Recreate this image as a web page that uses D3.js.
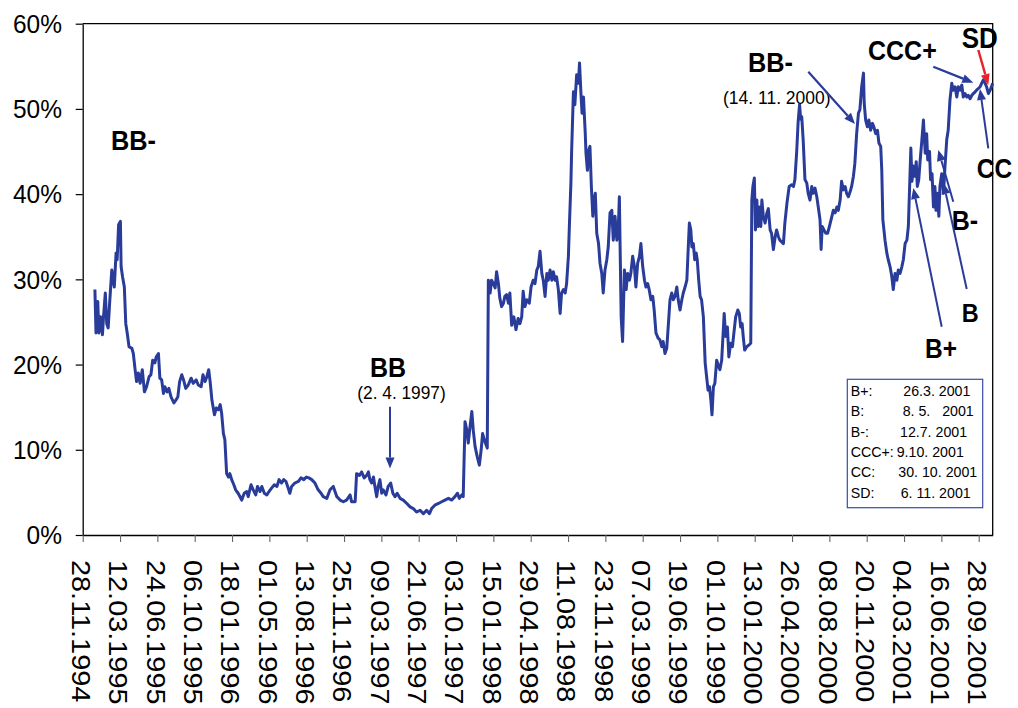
<!DOCTYPE html>
<html><head><meta charset="utf-8">
<script src="https://cdn.jsdelivr.net/npm/d3@7"></script>
<style>
body{margin:0;background:#fff;}
svg{display:block;}
text{font-family:"Liberation Sans",Arial,Helvetica,sans-serif;fill:#000;}
</style>
</head><body>
<svg id="c" width="1018" height="708"></svg>
<script>
// ---------------- data ----------------
const dates = [
"1995-01-01","1995-01-04","1995-01-09","1995-01-12","1995-01-17","1995-01-22","1995-01-25","1995-01-30","1995-02-03","1995-02-07",
"1995-02-11","1995-02-17","1995-02-20","1995-02-24","1995-03-01","1995-03-04","1995-03-08","1995-03-13","1995-03-15","1995-03-19",
"1995-03-24","1995-03-28","1995-04-01","1995-04-06","1995-04-14","1995-04-18","1995-04-23","1995-04-27","1995-05-02","1995-05-07",
"1995-05-13","1995-05-19","1995-05-25","1995-06-01","1995-06-06","1995-06-11","1995-06-17","1995-06-21","1995-06-27","1995-07-01",
"1995-07-06","1995-07-11","1995-07-15","1995-07-21","1995-07-26","1995-08-01","1995-08-09","1995-08-14","1995-08-20","1995-08-25",
"1995-08-31","1995-09-05","1995-09-11","1995-09-18","1995-09-26","1995-10-02","1995-10-10","1995-10-16","1995-10-24","1995-10-29",
"1995-11-04","1995-11-09","1995-11-14","1995-11-18","1995-11-23","1995-11-30","1995-12-05","1995-12-11","1995-12-16","1995-12-20",
"1995-12-25","1995-12-29","1996-01-03","1996-01-08","1996-01-12","1996-01-17","1996-01-23","1996-01-28","1996-02-04","1996-02-14",
"1996-02-21","1996-02-28","1996-03-03","1996-03-11","1996-03-17","1996-03-24","1996-03-29","1996-04-05","1996-04-10","1996-04-17",
"1996-04-24","1996-04-30","1996-05-07","1996-05-15","1996-05-22","1996-05-28","1996-06-04","1996-06-10","1996-06-16","1996-06-21",
"1996-06-27","1996-07-02","1996-07-11","1996-07-21","1996-07-28","1996-08-05","1996-08-12","1996-08-19","1996-08-27","1996-09-05",
"1996-09-14","1996-09-22","1996-09-28","1996-10-08","1996-10-17","1996-10-26","1996-11-05","1996-11-14","1996-11-23","1996-12-02",
"1996-12-12","1996-12-16","1996-12-26","1996-12-30","1997-01-07","1997-01-13","1997-01-20","1997-01-27","1997-02-01","1997-02-05",
"1997-02-10","1997-02-15","1997-02-19","1997-02-24","1997-02-28","1997-03-05","1997-03-10","1997-03-14","1997-03-22","1997-03-28",
"1997-04-04","1997-04-10","1997-04-16","1997-04-22","1997-04-30","1997-05-09","1997-05-19","1997-05-28","1997-06-06","1997-06-15",
"1997-06-25","1997-07-04","1997-07-13","1997-07-21","1997-07-27","1997-08-05","1997-08-15","1997-08-24","1997-09-02","1997-09-12",
"1997-09-21","1997-09-30","1997-10-07","1997-10-12","1997-10-19","1997-10-23","1997-10-28","1997-11-02","1997-11-06","1997-11-11",
"1997-11-16","1997-11-20","1997-11-25","1997-12-01","1997-12-07","1997-12-12","1997-12-16","1997-12-22","1997-12-29","1998-01-01",
"1998-01-06","1998-01-10","1998-01-15","1998-01-20","1998-01-24","1998-01-29","1998-02-02","1998-02-07","1998-02-12","1998-02-16",
"1998-02-21","1998-02-26","1998-03-02","1998-03-07","1998-03-13","1998-03-19","1998-03-25","1998-03-30","1998-04-04","1998-04-08",
"1998-04-13","1998-04-18","1998-04-25","1998-04-30","1998-05-06","1998-05-11","1998-05-16","1998-05-20","1998-05-25","1998-05-30",
"1998-06-03","1998-06-08","1998-06-13","1998-06-17","1998-06-22","1998-06-27","1998-07-01","1998-07-06","1998-07-10","1998-07-15",
"1998-07-20","1998-07-24","1998-07-29","1998-08-03","1998-08-07","1998-08-12","1998-08-15","1998-08-19","1998-08-21","1998-08-26",
"1998-08-30","1998-09-04","1998-09-09","1998-09-12","1998-09-16","1998-09-19","1998-09-23","1998-09-28","1998-09-30","1998-10-04",
"1998-10-08","1998-10-11","1998-10-15","1998-10-19","1998-10-22","1998-10-26","1998-10-30","1998-11-04","1998-11-08","1998-11-13",
"1998-11-17","1998-11-22","1998-11-27","1998-12-01","1998-12-06","1998-12-11","1998-12-15","1998-12-20","1998-12-25","1998-12-29",
"1999-01-01","1999-01-06","1999-01-10","1999-01-15","1999-01-20","1999-01-24","1999-01-29","1999-02-02","1999-02-07","1999-02-12",
"1999-02-16","1999-02-21","1999-02-26","1999-03-02","1999-03-07","1999-03-12","1999-03-16","1999-03-21","1999-03-25","1999-03-30",
"1999-04-04","1999-04-08","1999-04-13","1999-04-19","1999-04-24","1999-04-29","1999-05-03","1999-05-08","1999-05-13","1999-05-17",
"1999-05-22","1999-05-27","1999-05-31","1999-06-05","1999-06-10","1999-06-14","1999-06-19","1999-06-24","1999-06-28","1999-07-03",
"1999-07-08","1999-07-12","1999-07-15","1999-07-19","1999-07-22","1999-07-26","1999-07-30","1999-08-03","1999-08-06","1999-08-10",
"1999-08-14","1999-08-18","1999-08-23","1999-08-28","1999-09-01","1999-09-05","1999-09-09","1999-09-13","1999-09-16","1999-09-20",
"1999-09-24","1999-09-29","1999-10-04","1999-10-08","1999-10-13","1999-10-18","1999-10-20","1999-10-24","1999-10-29","1999-11-02",
"1999-11-07","1999-11-12","1999-11-16","1999-11-21","1999-11-27","1999-12-01","1999-12-05","1999-12-09","1999-12-12","1999-12-16",
"1999-12-22","1999-12-28","2000-01-02","2000-01-05","2000-01-08","2000-01-12","2000-01-15","2000-01-19","2000-01-22","2000-01-26",
"2000-01-30","2000-02-02","2000-02-06","2000-02-11","2000-02-16","2000-02-20","2000-02-25","2000-02-29","2000-03-05","2000-03-10",
"2000-03-14","2000-03-19","2000-03-23","2000-04-02","2000-04-06","2000-04-12","2000-04-18","2000-04-25","2000-04-30","2000-05-04",
"2000-05-09","2000-05-13","2000-05-17","2000-05-20","2000-05-23","2000-05-27","2000-06-01","2000-06-06","2000-06-10","2000-06-15",
"2000-06-20","2000-06-24","2000-06-29","2000-07-04","2000-07-08","2000-07-13","2000-07-16","2000-07-19","2000-07-24","2000-07-29",
"2000-08-03","2000-08-08","2000-08-15","2000-08-19","2000-08-24","2000-08-29","2000-09-02","2000-09-07","2000-09-11","2000-09-16",
"2000-09-21","2000-09-25","2000-09-30","2000-10-05","2000-10-09","2000-10-14","2000-10-18","2000-10-23","2000-10-28","2000-11-01",
"2000-11-06","2000-11-11","2000-11-13","2000-11-17","2000-11-22","2000-11-26","2000-12-01","2000-12-06","2000-12-10","2000-12-15",
"2000-12-20","2000-12-24","2000-12-29","2001-01-01","2001-01-04","2001-01-10","2001-01-15","2001-01-19","2001-01-24","2001-01-29",
"2001-02-02","2001-02-07","2001-02-12","2001-02-16","2001-02-21","2001-02-26","2001-03-02","2001-03-07","2001-03-12","2001-03-16",
"2001-03-19","2001-03-23","2001-03-26","2001-03-30","2001-04-03","2001-04-07","2001-04-10","2001-04-14","2001-04-18","2001-04-22",
"2001-04-27","2001-05-02","2001-05-06","2001-05-09","2001-05-14","2001-05-17","2001-05-21","2001-05-25","2001-05-29","2001-06-01",
"2001-06-05","2001-06-09","2001-06-12","2001-06-17","2001-06-22","2001-06-26","2001-07-01","2001-07-05","2001-07-10","2001-07-15",
"2001-07-19","2001-07-24","2001-07-29","2001-08-02","2001-08-07","2001-08-12","2001-08-16","2001-08-21","2001-08-26","2001-08-30",
"2001-09-04","2001-09-09","2001-09-13","2001-09-18","2001-09-22","2001-09-27","2001-10-02","2001-10-06","2001-10-11","2001-10-16",
"2001-10-20","2001-10-25","2001-10-30","2001-11-06"
];
const values = [
28.8,23.7,27.4,23.7,25.6,23.5,25.6,28.4,24.8,24.3,
27.2,31.1,30.3,29.1,33.1,32.3,36.4,36.8,31.5,30.3,
29.1,24.8,23.7,22.1,21.9,21.3,19.4,18.0,19.0,17.8,
19.4,16.8,17.4,18.6,18.8,20.5,20.2,20.9,21.3,18.4,
18.2,16.6,17.4,16.8,17.2,16.2,15.5,15.8,16.2,18.0,
18.8,18.2,17.2,17.6,18.4,17.8,18.2,17.6,17.4,18.8,
18.0,18.6,19.4,18.0,15.8,14.1,14.9,14.7,15.3,14.3,
11.9,11.2,7.2,6.8,7.2,6.5,5.9,5.3,4.9,4.1,
4.9,5.1,4.5,5.9,5.3,4.7,5.7,5.1,5.7,4.9,
4.7,5.1,5.5,5.9,5.7,6.5,6.1,6.5,6.3,5.7,
4.9,5.7,6.1,6.3,6.7,6.5,6.8,6.7,6.5,6.1,
5.3,4.9,4.5,4.3,5.3,5.7,4.5,4.1,3.9,4.1,
4.7,3.9,3.9,7.2,7.0,7.4,6.7,7.0,7.4,6.5,
6.1,6.8,5.7,4.5,5.7,6.5,4.9,5.3,4.7,5.7,
6.1,4.9,4.5,4.9,4.3,4.1,3.7,3.3,3.1,2.7,
2.9,2.5,2.9,2.5,3.1,3.5,3.7,3.9,4.1,4.3,
4.1,4.5,4.9,4.3,4.7,4.5,13.3,12.3,10.8,12.7,
14.5,12.3,10.4,9.2,8.2,10.0,11.9,11.0,10.2,29.9,
28.4,29.9,29.5,29.0,30.9,29.5,27.8,26.8,27.2,28.0,
28.2,27.2,28.4,24.6,25.6,24.1,25.4,24.8,25.6,28.6,
26.8,27.6,27.2,29.1,29.9,29.5,31.1,31.5,33.3,30.7,
29.9,28.0,30.7,29.9,31.1,29.9,30.9,29.9,30.3,28.8,
26.0,28.4,28.8,28.4,29.5,32.7,36.6,41.3,45.0,52.0,
50.5,54.0,53.0,55.4,51.8,49.5,51.4,47.1,44.8,42.8,
45.2,45.6,40.9,37.4,39.3,40.1,35.4,34.2,31.9,30.7,
28.4,31.1,32.3,33.8,37.8,38.1,34.6,37.4,34.6,36.0,
39.7,25.6,22.7,31.1,28.8,30.7,29.9,30.7,32.7,31.5,
29.1,31.9,32.7,34.2,31.5,29.9,29.1,29.5,28.8,27.6,
28.0,26.4,23.7,23.1,22.9,22.1,22.7,21.3,21.9,24.4,
27.6,28.4,27.6,28.0,29.1,27.6,26.4,27.6,28.4,29.1,
29.9,33.8,36.6,35.8,33.8,34.2,32.3,33.1,32.3,29.9,
28.0,27.6,25.6,20.2,18.6,17.0,17.4,15.8,14.1,17.4,
17.8,20.5,19.8,19.4,20.5,24.4,26.0,23.3,24.4,20.9,
22.5,22.1,23.7,25.6,26.4,26.0,24.4,24.8,23.3,21.7,
22.1,22.3,22.5,39.3,40.9,41.9,35.8,39.3,36.2,38.5,
36.2,39.3,37.4,36.6,37.8,38.3,35.8,35.4,33.5,35.0,
35.8,35.0,34.6,34.2,36.6,39.0,40.9,41.1,40.9,41.7,
45.0,48.5,50.5,48.8,49.1,46.4,41.7,41.3,40.1,39.3,
40.9,40.1,40.7,39.7,38.5,37.0,33.5,36.2,35.8,35.4,
35.4,36.2,37.4,38.1,37.8,38.5,38.1,39.3,41.5,40.5,
40.9,40.1,39.7,40.3,40.9,42.1,43.6,47.1,49.5,49.9,
52.6,54.2,50.7,48.7,47.9,48.7,47.5,48.3,47.9,47.1,
47.5,46.0,45.6,42.8,37.0,34.6,33.1,32.3,31.5,30.3,
28.8,30.7,29.9,31.1,30.7,31.5,32.3,34.2,34.6,36.2,
40.1,45.4,41.5,43.3,42.1,43.8,40.9,41.7,44.0,46.0,
48.7,44.8,47.1,44.0,45.0,41.7,42.4,38.5,40.9,38.1,
40.1,37.4,40.9,42.4,40.1,43.2,46.4,47.5,51.1,53.0,
52.2,52.6,51.4,52.6,52.2,52.8,51.4,51.8,51.4,51.6,
51.2,51.6,51.8,52.0,52.2,52.4,52.6,53.0,53.4,53.0,
52.6,51.8,52.2,53.0
];
const tickLabels = ["28.11.1994","12.03.1995","24.06.1995","06.10.1995","18.01.1996","01.05.1996","13.08.1996",
"25.11.1996","09.03.1997","21.06.1997","03.10.1997","15.01.1998","29.04.1998","11.08.1998","23.11.1998",
"07.03.1999","19.06.1999","01.10.1999","13.01.2000","26.04.2000","08.08.2000","20.11.2000","04.03.2001",
"16.06.2001","28.09.2001"];
const yTicks = [0,10,20,30,40,50,60];
const legendRatings = ["B+:","B:","B-:","CCC+:","CC:","SD:"];
const legendDates = ["26.3. 2001","8. 5.   2001","12.7. 2001","9.10. 2001","30. 10. 2001","6. 11. 2001"];

// ---------------- drawing ----------------
const svg = d3.select("#c");
const W = 1018, H = 708;
const L = 82.7, R = 992.7, T = 23.7, B = 535;
const navy = "#2a3c9a";
const pDate = d3.timeParse("%Y-%m-%d");
const pTick = d3.timeParse("%d.%m.%Y");

const x = d3.scaleTime().domain([pTick("28.11.1994"), pTick("06.11.2001")]).range([L, R]);
const y = d3.scaleLinear().domain([0, 60]).range([B, T]);

svg.append("rect").attr("width", W).attr("height", H).attr("fill", "#fff");

const series = dates.map((d, i) => ({ d: pDate(d), v: values[i] }));

// frame (top & right)
svg.append("path")
  .attr("d", `M${L},${T}H${R}V${B}`)
  .attr("fill", "none").attr("stroke", "#000").attr("stroke-width", 1.3);

// x axis
const xAxis = d3.axisBottom(x).tickValues(tickLabels.map(pTick)).tickSize(7).tickFormat("").tickSizeOuter(0);
const gx = svg.append("g").attr("transform", `translate(0,${B})`).call(xAxis);
gx.select(".domain").attr("stroke", "#000").attr("stroke-width", 1.3);
gx.selectAll(".tick line").attr("stroke", "#666").attr("stroke-width", 1.1);

tickLabels.forEach(t => {
  svg.append("g")
    .attr("transform", `translate(${x(pTick(t)) - 1},560) rotate(90) scale(1.09,1)`)
    .append("text").attr("dy", "0.36em")
    .attr("font-size", 26.5).text(t);
});

// y axis
const yAxis = d3.axisLeft(y).tickValues(yTicks).tickSize(7).tickFormat("").tickSizeOuter(0);
const gy = svg.append("g").attr("transform", `translate(${L},0)`).call(yAxis);
gy.select(".domain").attr("stroke", "#000").attr("stroke-width", 1.3);
gy.selectAll(".tick line").attr("stroke", "#000").attr("stroke-width", 1.2);

yTicks.forEach(v => {
  svg.append("g")
    .attr("transform", `translate(62,${y(v)}) scale(1,1.05)`)
    .append("text").attr("text-anchor", "end").attr("dy", "0.36em")
    .attr("font-size", 24.5).text(v + "%");
});

// series line
const line = d3.line().x(p => x(p.d)).y(p => y(p.v));
svg.append("path").datum(series)
  .attr("d", line).attr("fill", "none")
  .attr("stroke", navy).attr("stroke-width", 3)
  .attr("stroke-linejoin", "round");

// helpers
function label(tx, ty, str, size, weight, sy) {
  svg.append("g").attr("transform", `translate(${tx},${ty}) scale(1,${sy})`)
    .append("text").attr("font-size", size).attr("font-weight", weight)
    .style("white-space", "pre").text(str);
}
function arrow(x1, y1, x2, y2, color, w) {
  const a = Math.atan2(y2 - y1, x2 - x1);
  const hl = 11, hw = 4.5;
  const bx = x2 - hl * Math.cos(a), by = y2 - hl * Math.sin(a);
  svg.append("line").attr("x1", x1).attr("y1", y1).attr("x2", bx).attr("y2", by)
    .attr("stroke", color).attr("stroke-width", w);
  const px = -Math.sin(a) * hw, py = Math.cos(a) * hw;
  svg.append("path")
    .attr("d", `M${x2},${y2}L${bx + px},${by + py}L${bx - px},${by - py}Z`)
    .attr("fill", color);
}

// rating annotations
label(111, 150, "BB-", 25.3, "bold", 1.1);
label(370, 376.5, "BB", 25, "bold", 1.1);
label(357.3, 398.5, "(2. 4. 1997)", 17.3, "normal", 1.05);
arrow(390, 406.7, 390, 468.5, navy, 2);

label(748, 71.7, "BB-", 25.3, "bold", 1.1);
label(723, 104, "(14. 11. 2000)", 17.5, "normal", 1.08);
arrow(808.3, 71.7, 855, 124, navy, 2.2);

label(868, 60, "CCC+", 25, "bold", 1.1);
arrow(933.3, 66.7, 973.3, 82.7, navy, 2.2);

label(961.7, 48.3, "SD", 26, "bold", 1.1);
arrow(978.3, 50, 988.3, 85, "#e8212b", 2.4);

label(976.7, 178, "CC", 24.5, "bold", 1.1);
arrow(988.3, 148.3, 980, 89, navy, 2);

label(951.7, 230, "B-", 25, "bold", 1.1);
arrow(953.3, 201.7, 938.3, 150, navy, 2);

label(961.7, 321.7, "B", 23.5, "bold", 1.1);
arrow(966.7, 289, 943.5, 183, navy, 2);

label(925, 358.3, "B+", 24.5, "bold", 1.1);
arrow(941.7, 326.7, 913.3, 188, navy, 2);

// legend box
svg.append("rect").attr("x", 847.3).attr("y", 379.3).attr("width", 135.4).attr("height", 128.4)
  .attr("fill", "#fff").attr("stroke", "#3a4aa8").attr("stroke-width", 1.2);
const dateX = [903.3, 902.7, 900, 896.7, 898.3, 900.7];
legendRatings.forEach((r, i) => {
  const by = 396 + i * 20.33;
  label(850.7, by, r, 14.2, "normal", 1.09);
  label(dateX[i], by, legendDates[i], 14.2, "normal", 1.09);
});
</script>
</body></html>
